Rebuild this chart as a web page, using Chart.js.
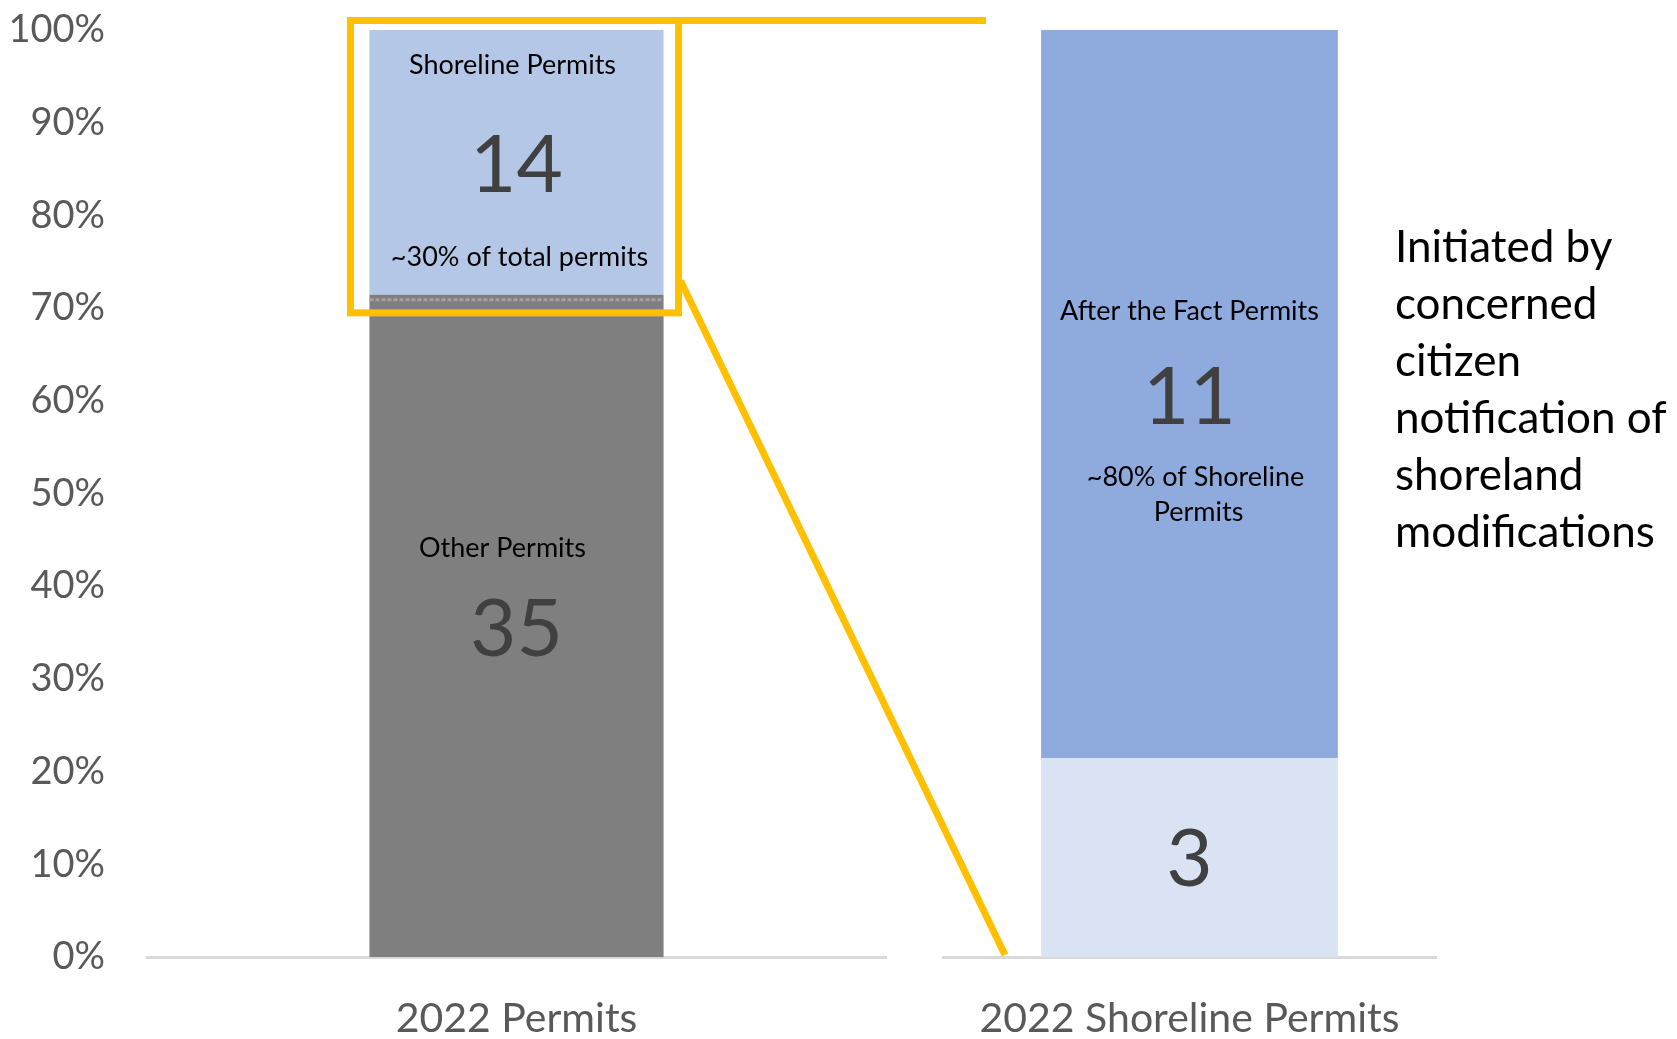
<!DOCTYPE html>
<html>
<head>
<meta charset="utf-8">
<title>2022 Permits</title>
<script src="https://cdn.jsdelivr.net/npm/chart.js@4.4.1/dist/chart.umd.min.js"></script>
<style>
  html, body { margin: 0; padding: 0; background: #fff; width: 1677px; height: 1039px; overflow: hidden; }
  #wrap { position: relative; width: 1677px; height: 1039px; }
  canvas { position: absolute; top: 0; }
  #leftChart { left: 0; }
  #rightChart { left: 900px; }
  #callout { left: 0; pointer-events: none; }
  #sideNote {
    position: absolute; left: 1395px; top: 217px;
    font-family: Lato, "Open Sans", sans-serif; font-size: 44px; line-height: 57px; color: #000;
    white-space: nowrap;
  }
</style>
</head>
<body>
<div id="wrap">
  <canvas id="leftChart" width="900" height="1039"></canvas>
  <canvas id="rightChart" width="560" height="1039"></canvas>
  <canvas id="callout" width="1677" height="1039"></canvas>
  <div id="sideNote">Initiated by<br>concerned<br>citizen<br>notification of<br>shoreland<br>modifications</div>
</div>
<script>
// ---- data ----
const categories = ['2022 Permits', '2022 Shoreline Permits'];

// all 2022 permits, bottom segment first
const permitSegments = ['Other Permits', 'Shoreline Permits'];
const permitCounts = [35, 14];
const permitNotes = ['', '~30% of total permits'];

// shoreline permits split, bottom segment first
const shorelineSegments = ['', 'After the Fact Permits'];
const shorelineCounts = [3, 11];
const shorelineNotes = ['', '~80% of Shoreline|Permits'];

const yTickLabels = ['0%', '10%', '20%', '30%', '40%', '50%', '60%', '70%', '80%', '90%', '100%'];

// ---- styling ----
const FONT = 'Lato, "Open Sans", sans-serif';
const permitColors = ['#7f7f7f', '#b4c7e7'];
const shorelineColors = ['#dae3f3', '#8faadc'];
const GOLD = '#ffc000';

function shares(counts) {
  const total = counts.reduce((a, b) => a + b, 0);
  return counts.map(c => c / total * 100);
}

// writes segment name, count and note inside every stacked segment
const segmentLabels = {
  id: 'segmentLabels',
  afterDatasetsDraw(chart, args, opts) {
    const ctx = chart.ctx;
    ctx.save();
    ctx.textAlign = 'center';
    ctx.textBaseline = 'middle';
    chart.data.datasets.forEach((ds, i) => {
      const bar = chart.getDatasetMeta(i).data[0];
      if (!bar) return;
      const cy = (bar.y + bar.base) / 2;
      const off = opts.offsets[i];
      if (opts.titles[i]) {
        ctx.fillStyle = '#000';
        ctx.font = '27px ' + FONT;
        ctx.fillText(opts.titles[i], bar.x + (off.titleDx || 0), cy + off.title);
      }
      ctx.fillStyle = '#404040';
      ctx.font = '80px ' + FONT;
      ctx.fillText(String(opts.counts[i]), bar.x, cy + off.count);
      if (opts.notes[i]) {
        ctx.fillStyle = '#000';
        ctx.font = '27px ' + FONT;
        opts.notes[i].split('|').forEach((line, k) => {
          const dx = off.noteDx ? off.noteDx[k] : 0;
          ctx.fillText(line, bar.x + dx, cy + off.note + k * 35);
        });
      }
    });
    ctx.restore();
  }
};

function xScale() {
  return {
    stacked: true,
    grid: { display: false },
    border: { display: true, color: '#d9d9d9', width: 3 },
    ticks: { font: { family: FONT, size: 41 }, color: '#595959', padding: 29, maxRotation: 0, autoSkip: false },
    afterFit(s) { s.height = 82; s.paddingLeft = 0; s.paddingRight = 0; }
  };
}

function draw() {
  const left = new Chart(document.getElementById('leftChart'), {
    type: 'bar',
    data: {
      labels: [categories[0]],
      datasets: permitSegments.map((name, i) => ({
        label: name,
        data: [shares(permitCounts)[i]],
        backgroundColor: permitColors[i],
        categoryPercentage: 1,
        barPercentage: 0.398
      }))
    },
    options: {
      responsive: false,
      animation: false,
      layout: { padding: { top: 30, right: 14, left: 0, bottom: 0 } },
      plugins: {
        legend: { display: false },
        tooltip: { enabled: false },
        segmentLabels: {
          titles: permitSegments,
          counts: permitCounts,
          notes: permitNotes,
          offsets: [
            { title: -78, titleDx: -14, count: 4, note: 0 },
            { title: -97, titleDx: -4, count: 4, note: 95, noteDx: [3] }
          ]
        }
      },
      scales: {
        x: xScale(),
        y: {
          stacked: true, min: 0, max: 100,
          grid: { display: false },
          border: { display: false },
          ticks: {
            stepSize: 10,
            font: { family: FONT, size: 38 },
            color: '#595959',
            padding: 34,
            callback: (v, i) => yTickLabels[i]
          },
          afterFit(s) { s.width = 147; s.paddingTop = 0; s.paddingBottom = 0; }
        }
      }
    },
    plugins: [segmentLabels]
  });

  const right = new Chart(document.getElementById('rightChart'), {
    type: 'bar',
    data: {
      labels: [categories[1]],
      datasets: shorelineSegments.map((name, i) => ({
        label: name || 'Other Shoreline Permits',
        data: [shares(shorelineCounts)[i]],
        backgroundColor: shorelineColors[i],
        categoryPercentage: 1,
        barPercentage: 0.602
      }))
    },
    options: {
      responsive: false,
      animation: false,
      layout: { padding: { top: 30, right: 24, left: 43, bottom: 0 } },
      plugins: {
        legend: { display: false },
        tooltip: { enabled: false },
        segmentLabels: {
          titles: shorelineSegments,
          counts: shorelineCounts,
          notes: shorelineNotes,
          offsets: [
            { title: 0, count: 3, note: 0 },
            { title: -83, count: 4, note: 83, noteDx: [6, 9] }
          ]
        }
      },
      scales: {
        x: xScale(),
        y: { display: false, stacked: true, min: 0, max: 100 }
      }
    },
    plugins: [segmentLabels]
  });

  // zoom callout: box round the shoreline segment, leading lines to the second bar
  const ctx = document.getElementById('callout').getContext('2d');
  const shore = left.getDatasetMeta(1).data[0];
  const other = left.getDatasetMeta(0).data[0];
  const rOffset = 900;
  const ra = right.chartArea;

  // dotted seam on top of the grey segment
  ctx.save();
  ctx.strokeStyle = '#a3a3a3';
  ctx.lineWidth = 3;
  ctx.setLineDash([4, 2]);
  ctx.beginPath();
  ctx.moveTo(other.x - other.width / 2, other.y + 5);
  ctx.lineTo(other.x + other.width / 2, other.y + 5);
  ctx.stroke();
  ctx.restore();

  const bx0 = shore.x - shore.width / 2 - 19;
  const bx1 = shore.x + shore.width / 2 + 15;
  const by0 = shore.y - 9.5;
  const by1 = shore.base + 18;

  ctx.strokeStyle = GOLD;
  ctx.lineWidth = 7;
  ctx.lineJoin = 'miter';
  ctx.strokeRect(bx0, by0, bx1 - bx0, by1 - by0);

  ctx.beginPath();
  ctx.moveTo(bx1, by0);
  ctx.lineTo(rOffset + ra.left + 43, by0);
  ctx.stroke();

  ctx.beginPath();
  ctx.moveTo(bx1 + 2, shore.base - 14);
  ctx.lineTo(rOffset + ra.left + 62, ra.bottom - 2);
  ctx.stroke();
}

if (document.fonts && document.fonts.load) {
  Promise.all([document.fonts.load('38px Lato'), document.fonts.load('80px Lato')]).then(draw, draw);
} else {
  draw();
}
</script>
</body>
</html>
